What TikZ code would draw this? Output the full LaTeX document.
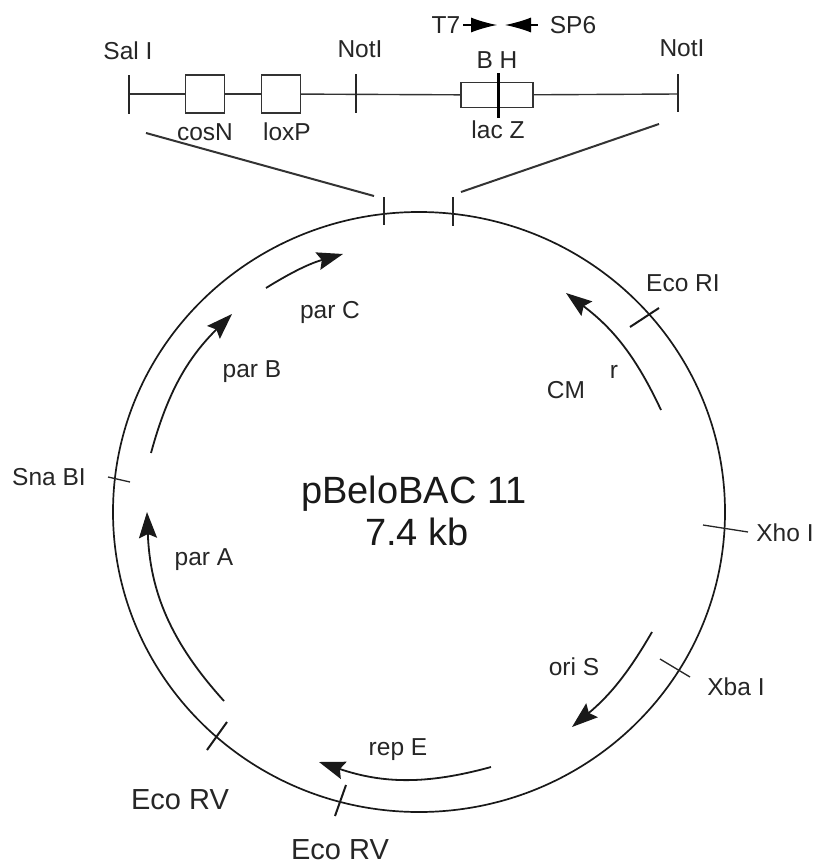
\documentclass[tikz,border=0pt]{standalone}
\usepackage{fontspec}
\setmainfont{Liberation Sans}
\usetikzlibrary{
    arrows.meta,
    positioning,
}

\begin{document}
\begin{tikzpicture}[
        x=1pt, y=-1pt,
        lab/.style={font=\fontsize{24.5}{27}\selectfont, text=black!85, inner sep=0pt},
        sitelab/.style={font=\fontsize{29}{32}\selectfont, text=black!85, inner sep=0pt},
        titlelab/.style={font=\fontsize{38}{41}\selectfont, text=black!90, inner sep=0pt},
        backbone/.style={line width=1.4pt, black!80},
        tick/.style={line width=1.3pt, black!85},
        heavytick/.style={line width=2pt, black!90},
        insert/.style={draw=black!80, line width=1.3pt, fill=white, inner sep=0pt, minimum width=39pt, minimum height=38pt},
        wire/.style={line width=2pt, black!80},
        gene/.style={line width=1.8pt, black!90, -{Stealth[length=26pt, width=18pt, inset=4pt]}},
        primer/.style={line width=1.2pt, black, -{Latex[length=26pt, width=15pt]}},
    ]
        \useasboundingbox (0,0) rectangle (817,867);

        % Plasmid circle
        \draw[line width=1.7pt, black!90] (419,512) ellipse [x radius=306, y radius=300];

        % Insert backbone
        \coordinate (salend) at (129,94);
        \coordinate (notend) at (678,94);
        \node[insert] (cosn) at (205,94) {};
        \node[insert] (loxp) at (281,94) {};
        \node[insert, minimum width=72pt, minimum height=25pt] (lacz) at (497,95) {};
        \draw[backbone] (salend) -- (cosn);
        \draw[backbone] (cosn) -- (loxp);
        \draw[backbone] (loxp) -- (lacz);
        \draw[backbone] (lacz) -- (notend);

        % Site ticks
        \foreach \xa/\ya/\xb/\yb in {
            129/75/129/114, 356/74/356/113, 678/74/678/112,
            384/197/384/225, 453/197/453/226,
            703/525/748/532, 660/659/690/677,
            108/477/130/482
        } {
            \draw[tick] (\xa,\ya) -- (\xb,\yb);
        }
        \foreach \xa/\ya/\xb/\yb in {
            630/327/659/308, 227/722/207/750, 346/785/335/816
        } {
            \draw[heavytick] (\xa,\ya) -- (\xb,\yb);
        }
        \draw[line width=3pt] (498,73) -- (498,118);

        % Zoom lines
        \coordinate (zoomla) at (146,133);
        \coordinate (zoomlb) at (374,196);
        \coordinate (zoomra) at (659,124);
        \coordinate (zoomrb) at (461,192);
        \draw[wire] (zoomla) -- (zoomlb);
        \draw[wire] (zoomra) -- (zoomrb);

        % Genes
        \coordinate (parAs) at (224,701);
        \coordinate (parAe) at (147,512);
        \coordinate (parBs) at (151,453);
        \coordinate (parBe) at (232,314);
        \coordinate (parCs) at (266,288);
        \coordinate (parCe) at (343,254);
        \coordinate (cmrs) at (661,410);
        \coordinate (cmre) at (566,293);
        \coordinate (oris) at (652,632);
        \coordinate (orie) at (572,727);
        \coordinate (reps) at (491,767);
        \coordinate (repe) at (319,762);
        \draw[gene] (parAs) to[bend left=20] (parAe);
        \draw[gene] (parBs) to[bend left=15] (parBe);
        \draw[gene] (parCs) to[bend left=8] (parCe);
        \draw[gene] (cmrs) to[bend right=14] (cmre);
        \draw[gene] (oris) to[bend left=10] (orie);
        \draw[gene] (reps) to[bend left=17] (repe);

        % Primers
        \node[lab, outer sep=3pt] (t7) at (446,25) {T7};
        \node[lab, outer sep=12pt] (sp6) at (573,25) {SP6};
        \coordinate (t7tip) at (497,25);
        \coordinate (sp6tip) at (505,25);
        \draw[primer] (t7) -- (t7tip);
        \draw[primer] (sp6) -- (sp6tip);

        % Labels
        \node[lab] (sal) at (128,51) {Sal I};
        \node[lab] (nota) at (360,49) {NotI};
        \node[lab] (notb) at (682,48) {NotI};
        \node[lab] (bh) at (497,60) {B H};
        \node[lab] (coslab) at (205,132) {cosN};
        \node[lab] (loxlab) at (287,132) {loxP};
        \node[lab] (laclab) at (498,130) {lac Z};
        \node[lab] (ecori) at (683,283) {Eco RI};
        \node[lab] (cm) at (566,390) {CM};
        \node[lab] (cmsup) at (614,372) {r};
        \node[lab] (sna) at (49,477) {Sna BI};
        \node[lab] (xho) at (785,533) {Xho I};
        \node[lab] (xba) at (736,687) {Xba I};
        \node[lab] (ori) at (574,667) {ori S};
        \node[lab] (rep) at (398,750) {rep E};
        \node[lab] (para) at (204,560) {par A};
        \node[lab] (parb) at (252,372) {par B};
        \node[lab] (parc) at (330,312) {par C};
        \node[sitelab] (ecoa) at (180,800) {Eco RV};
        \node[sitelab] (ecob) at (340,850) {Eco RV};
        \node[titlelab] (name) at (414,494) {pBeloBAC 11};
        \node[titlelab] (size) at (417,532) {7.4 kb};
\end{tikzpicture}
\end{document}
